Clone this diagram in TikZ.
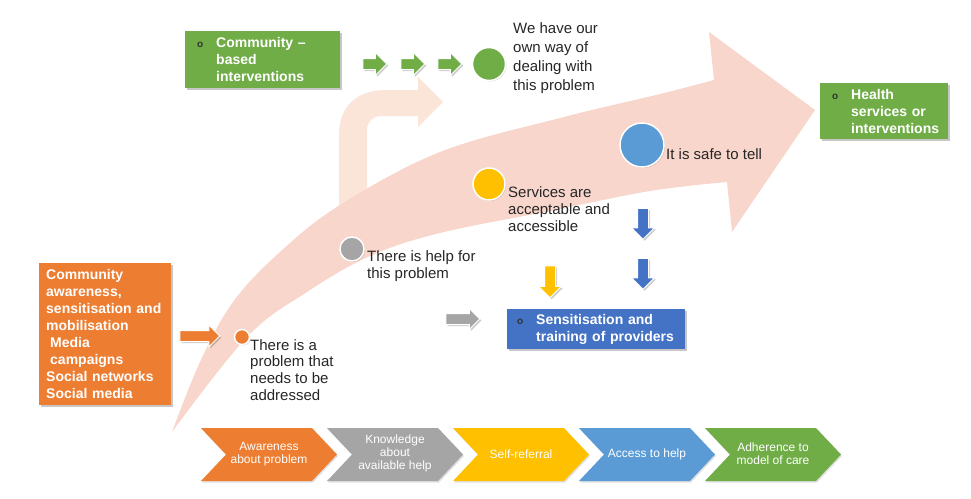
\documentclass[tikz,border=0pt]{standalone}
\usepackage{fontspec}
\setmainfont{Liberation Sans}
\usetikzlibrary{shapes.arrows,shadows}
\definecolor{corange}{HTML}{ED7D31}
\definecolor{cgray}{HTML}{A5A5A5}
\definecolor{cyellow}{HTML}{FFC000}
\definecolor{cblue}{HTML}{5B9BD5}
\definecolor{cgreen}{HTML}{70AD47}
\definecolor{cdarkblue}{HTML}{4472C4}
\definecolor{bandpink}{HTML}{F8D6CB}
\definecolor{bendpink}{HTML}{FBE5D9}
\definecolor{textgray}{HTML}{262626}
\newcommand{\boxbullet}{\leavevmode\llap{\textcolor{black!80}{\fontsize{10}{10}\selectfont o}\hspace{13pt}}}

\begin{document}
\begin{tikzpicture}[x=1pt,y=-1pt,
  every node/.style={inner sep=0pt},
  stagenote/.style={anchor=west, align=left, text=textgray, font=\fontsize{15}{16.8}\selectfont},
  stagetext/.style={text=white, align=center, font=\fontsize{12}{13}\selectfont},
  stagebox/.style={drop shadow={shadow xshift=1pt, shadow yshift=-1.5pt, fill=black, opacity=0.12}},
  infobox/.style={anchor=north west, align=left, text=white, font=\bfseries\fontsize{14}{17}\selectfont,
    drop shadow={shadow xshift=2pt, shadow yshift=-2pt, fill=black, opacity=0.22}},
  milestone/.style={circle, draw=white, line width=1.5pt,
    drop shadow={shadow xshift=1pt, shadow yshift=-1pt, fill=black, opacity=0.15}},
  blockarrow/.style={single arrow, inner xsep=0pt, inner ysep=5pt, single arrow head extend=6pt,
    draw=white, line width=1pt, drop shadow={shadow xshift=1.5pt, shadow yshift=-1.5pt, fill=black, opacity=0.2}}]
\useasboundingbox (0,0) rectangle (971,498);

\fill[bendpink] (339,215) -- (339,135) .. controls (339,106) and (357,90) .. (386,90) -- (418,90) -- (418,77) -- (443,102) -- (418,127) -- (418,116) -- (381,116) .. controls (373,116) and (367,122) .. (367,130) -- (367,215) -- cycle;
\fill[bandpink] plot[smooth, tension=0.6] coordinates {(172,432) (200,362) (233,302) (280,252) (340,205) (440,152) (560,118) (660,94) (714,80)} -- (709,32) -- (815,110) -- (732,232) -- (727,182) -- plot[smooth, tension=0.6] coordinates {(727,182) (650,191) (550,211) (440,233) (370,256) (307,292) (247,337) (172,432)} -- cycle;

\node[infobox, fill=cgreen, text width=155pt, minimum height=57pt] (cbi) at (185,31) {\leftskip=31pt\boxbullet Community –\\based\\interventions\par};
\node[infobox, fill=corange, text width=132pt, minimum height=142pt] (aware) at (39,263) {\leftskip=7pt Community\\awareness,\\sensitisation and\\mobilisation\\\hspace*{4pt}Media\\\hspace*{4pt}campaigns\\Social networks\\Social media\par};
\node[infobox, fill=cdarkblue, text width=178pt, minimum height=40pt] (train) at (507,309) {\leftskip=29pt\boxbullet Sensitisation and\\training of providers\par};
\node[infobox, fill=cgreen, text width=128pt, minimum height=56pt] (health) at (820,83) {\leftskip=31pt\boxbullet Health\\services or\\interventions\par};

\node[blockarrow, fill=cgreen, minimum height=24pt] (garrowa) at (372,64) {};
\node[blockarrow, fill=cgreen, minimum height=24pt] (garrowb) at (410,64) {};
\node[blockarrow, fill=cgreen, minimum height=24pt] (garrowc) at (447,64) {};
\node[blockarrow, fill=corange, minimum height=40pt, single arrow head extend=5.5pt] (oarrow) at (197,336) {};
\node[blockarrow, fill=cgray, minimum height=34pt, single arrow head extend=5pt] (grarrow) at (460,319) {};
\node[blockarrow, fill=cyellow, rotate=-90, minimum height=32pt] (yarrow) at (550,279) {};
\node[blockarrow, fill=cdarkblue, rotate=-90, minimum height=31pt] (barrowa) at (643,221) {};
\node[blockarrow, fill=cdarkblue, rotate=-90, minimum height=31pt] (barrowb) at (643,271) {};

\node[milestone, fill=cgreen, minimum size=33pt] (own) at (489,64) {};
\node[milestone, fill=corange, minimum size=15pt] (problem) at (242,337) {};
\node[milestone, fill=cgray, minimum size=24pt] (help) at (352,249) {};
\node[milestone, fill=cyellow, minimum size=32pt] (accept) at (489,184) {};
\node[milestone, fill=cblue, minimum size=44pt] (safe) at (642,145) {};

\node[stagenote, font=\fontsize{15}{19}\selectfont] (ownt) at (513,58) {We have our\\own way of\\dealing with\\this problem};
\node[stagenote] (problemt) at (250,370) {There is a\\problem that\\needs to be\\addressed};
\node[stagenote] (helpt) at (367,266) {There is help for\\this problem};
\node[stagenote] (acceptt) at (508,209) {Services are\\acceptable and\\accessible};
\node[stagenote] (safet) at (666,154) {It is safe to tell};

\fill[corange, stagebox] (201,428) -- (312,428) -- (337,454.5) -- (312,481) -- (201,481) -- (226,454.5) -- cycle;
\fill[cgray, stagebox] (327,428) -- (438,428) -- (463,454.5) -- (438,481) -- (327,481) -- (352,454.5) -- cycle;
\fill[cyellow, stagebox] (453,428) -- (564,428) -- (589,454.5) -- (564,481) -- (453,481) -- (478,454.5) -- cycle;
\fill[cblue, stagebox] (579,428) -- (690,428) -- (715,454.5) -- (690,481) -- (579,481) -- (604,454.5) -- cycle;
\fill[cgreen, stagebox] (705,428) -- (816,428) -- (841,454.5) -- (816,481) -- (705,481) -- (730,454.5) -- cycle;
\node[stagetext] (sawareness) at (269,454) {Awareness\\about problem};
\node[stagetext] (sknowledge) at (395,453) {Knowledge\\about\\available help};
\node[stagetext] (sreferral) at (521,454) {Self-referral};
\node[stagetext] (saccess) at (647,454) {Access to help};
\node[stagetext] (sadherence) at (773,454) {Adherence to\\model of care};
\end{tikzpicture}
\end{document}
